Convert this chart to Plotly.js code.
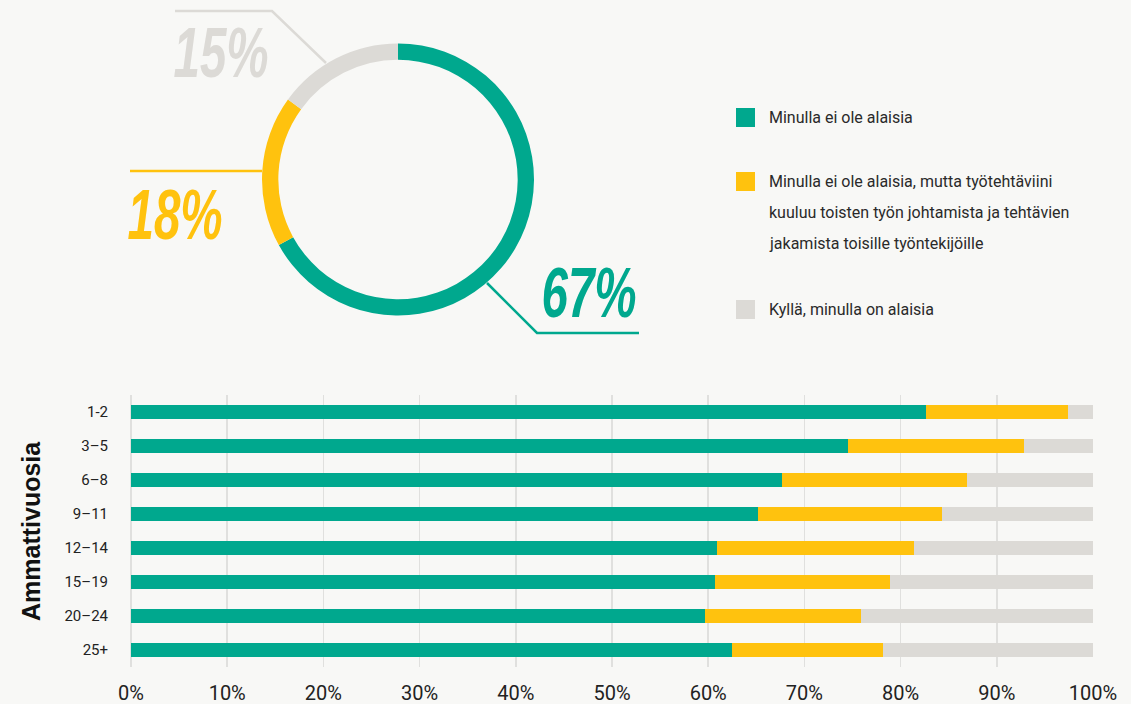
<!DOCTYPE html>
<html>
<head>
<meta charset="utf-8">
<script src="https://cdn.plot.ly/plotly-3.0.1.min.js"></script>
<style>
html,body{margin:0;padding:0;background:#f8f8f6;}
#chart{width:1131px;height:704px;}
</style>
</head>
<body>
<div id="chart"></div>
<script>
// ---- data ----
const seriesNames = [
  "Minulla ei ole alaisia",
  "Minulla ei ole alaisia, mutta työtehtäviini kuuluu toisten työn johtamista ja tehtävien jakamista toisille työntekijöille",
  "Kyllä, minulla on alaisia"
];
const legendLines = [
  ["Minulla ei ole alaisia"],
  ["Minulla ei ole alaisia, mutta työtehtäviini", "kuuluu toisten työn johtamista ja tehtävien", "jakamista toisille työntekijöille"],
  ["Kyllä, minulla on alaisia"]
];
const donutValues = [67, 18, 15];
const donutLabels = ["67%", "18%", "15%"];

const categories = ["1-2", "3–5", "6–8", "9–11", "12–14", "15–19", "20–24", "25+"];
const noSubordinates = [82.6, 74.5, 67.7, 65.2, 60.9, 60.7, 59.7, 62.5];
const leadsWork      = [14.8, 18.3, 19.2, 19.1, 20.5, 18.2, 16.2, 15.7];
const hasSubordinates= [2.6, 7.2, 13.1, 15.7, 18.6, 21.1, 24.1, 21.8];
const yAxisTitle = "Ammattivuosia";

// ---- styling ----
const W = 1131, H = 704;
const colors = ["#00a88e", "#ffc20e", "#dcdad6"];
const px = x => x / W;
const py = y => 1 - y / H;
const baseFont = "Roboto, 'Noto Sans', sans-serif";

const pie = {
  type: "pie",
  values: donutValues,
  labels: seriesNames,
  sort: false,
  direction: "clockwise",
  rotation: 0,
  hole: 0.88,
  textinfo: "none",
  showlegend: false,
  marker: {colors: colors, line: {width: 0}},
  domain: {x: [px(398 - 136), px(398 + 136)], y: [py(179.5 + 136), py(179.5 - 136)]}
};

const barSeries = [noSubordinates, leadsWork, hasSubordinates];
const bars = barSeries.map((vals, i) => ({
  type: "bar",
  orientation: "h",
  x: vals,
  y: categories,
  name: seriesNames[i],
  marker: {color: colors[i], line: {width: 0}},
  showlegend: false,
  xaxis: "x",
  yaxis: "y"
}));

const shapes = [];
const annotations = [];

// leader lines
const lineW = 2.5;
shapes.push({type: "path", xref: "paper", yref: "paper",
  path: `M ${px(175)} ${py(11)} L ${px(272)} ${py(11)} L ${px(326)} ${py(63)}`,
  line: {color: colors[2], width: lineW}});
shapes.push({type: "line", xref: "paper", yref: "paper",
  x0: px(130), y0: py(171), x1: px(262), y1: py(171),
  line: {color: colors[1], width: lineW}});
shapes.push({type: "path", xref: "paper", yref: "paper",
  path: `M ${px(487)} ${py(283)} L ${px(537)} ${py(333)} L ${px(639)} ${py(333)}`,
  line: {color: colors[0], width: lineW}});

// big percentage labels
const bigPos = [[589, 293], [175, 215], [221, 53]];
donutLabels.forEach((t, i) => {
  annotations.push({
    xref: "paper", yref: "paper", x: px(bigPos[i][0]), y: py(bigPos[i][1]),
    xanchor: "center", yanchor: "middle", showarrow: false,
    text: t,
    font: {family: "'Liberation Sans', Arial, sans-serif", size: 70, weight: 700, style: "italic", color: colors[i]}
  });
});
const bigCount = donutLabels.length;

// custom legend
const legendTop = [108, 172, 300];
legendLines.forEach((lines, i) => {
  shapes.push({type: "rect", xref: "paper", yref: "paper",
    x0: px(736), x1: px(755), y0: py(legendTop[i]), y1: py(legendTop[i] + 19),
    fillcolor: colors[i], line: {width: 0}});
  lines.forEach((ln, j) => {
    annotations.push({
      xref: "paper", yref: "paper", x: px(767), y: py(legendTop[i] + 9.5 + j * 31),
      xanchor: "left", yanchor: "middle", showarrow: false, text: ln,
      font: {family: baseFont, size: 16, color: "#2a2a2a"}
    });
  });
});

// y axis title
annotations.push({
  xref: "paper", yref: "paper", x: px(31), y: py(531),
  xanchor: "center", yanchor: "middle", showarrow: false, textangle: -90,
  text: "<b>" + yAxisTitle + "</b>",
  font: {family: "'Liberation Sans', Arial, sans-serif", size: 25, color: "#111"}
});

const layout = {
  width: W, height: H,
  margin: {l: 0, r: 0, t: 0, b: 0},
  paper_bgcolor: "#f8f8f6",
  plot_bgcolor: "#f8f8f6",
  barmode: "stack",
  bargap: 0.59,
  font: {family: baseFont, color: "#222"},
  xaxis: {
    domain: [px(131), px(1093)],
    range: [0, 100],
    dtick: 10,
    ticksuffix: "%",
    showgrid: true,
    gridcolor: "#e0e0de",
    gridwidth: 1.5,
    zeroline: true,
    zerolinecolor: "#e0e0de",
    zerolinewidth: 1.5,
    showline: false,
    ticks: "",
    ticklabelstandoff: 12,
    tickfont: {family: baseFont, size: 20, color: "#222"},
    fixedrange: true
  },
  yaxis: {
    domain: [py(667), py(395)],
    autorange: "reversed",
    type: "category",
    showgrid: false,
    zeroline: false,
    showline: false,
    ticks: "",
    ticklabelstandoff: 22,
    tickfont: {family: baseFont, size: 15, color: "#222"},
    fixedrange: true
  },
  shapes: shapes,
  annotations: annotations,
  showlegend: false
};

Plotly.newPlot("chart", [pie, ...bars], layout, {displayModeBar: false, staticPlot: true}).then(gd => {
  // condense the big percentage labels horizontally (reference uses a condensed face)
  gd.querySelectorAll("g.annotation").forEach(g => {
    const idx = +g.getAttribute("data-index");
    if (idx < bigCount) {
      const txt = g.querySelector("text.annotation-text");
      if (txt) {
        txt.style.transformBox = "fill-box";
        txt.style.transformOrigin = "center";
        txt.style.transform = "scaleX(0.68)";
      }
    }
  });
});
</script>
</body>
</html>
